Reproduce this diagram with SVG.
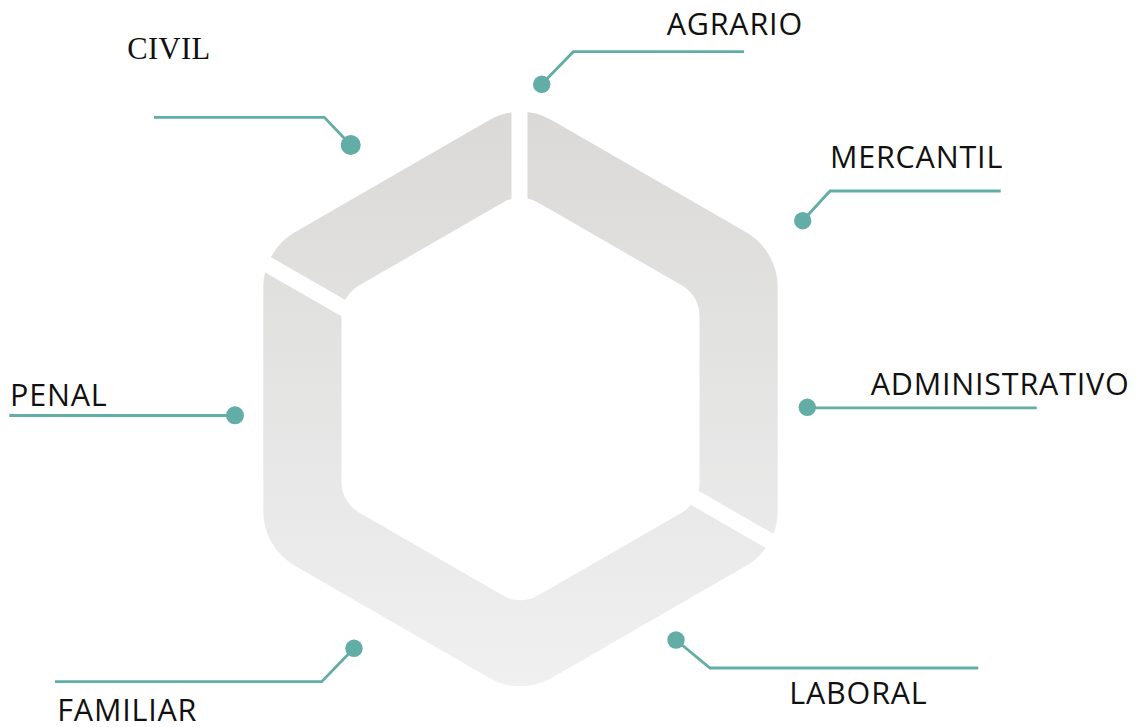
<svg xmlns="http://www.w3.org/2000/svg" width="1141" height="727" viewBox="0 0 1141 727">
  <style>
    .lbl { font-family: "Open Sans", "Liberation Sans", sans-serif; font-size: 30.5px; letter-spacing: 0.8px; fill: #111111; }
    .serif { font-family: "Liberation Serif", "Times New Roman", serif; font-size: 30.5px; letter-spacing: 0.4px; fill: #111111; }
    .conn { fill: none; stroke: #62ada5; stroke-width: 2.8; stroke-linejoin: miter; }
    .dot { fill: #62ada5; }
    .gap { stroke: #ffffff; stroke-width: 16; fill: none; }
  </style>
  <defs>
    <linearGradient id="ringGrad" x1="0" y1="110" x2="0" y2="686" gradientUnits="userSpaceOnUse">
      <stop offset="0" stop-color="#dad9d8"/>
      <stop offset="1" stop-color="#f0f0f0"/>
    </linearGradient>
  </defs>
  <rect width="1141" height="727" fill="#ffffff"/>

  <g id="hexagon">
    <path fill="url(#ringGrad)" fill-rule="evenodd" d="M489,120.2 A63,63 0 0 1 552,120.2 L746.2,232.3 A63,63 0 0 1 777.7,286.9 L777.7,511.1 A63,63 0 0 1 746.2,565.7 L552,677.8 A63,63 0 0 1 489,677.8 L294.8,565.7 A63,63 0 0 1 263.3,511.1 L263.3,286.9 A63,63 0 0 1 294.8,232.3 Z M503,202.4 A35,35 0 0 1 538,202.4 L682,285.55 A35,35 0 0 1 699.5,315.85 L699.5,482.15 A35,35 0 0 1 682,512.45 L538,595.6 A35,35 0 0 1 503,595.6 L359,512.45 A35,35 0 0 1 341.5,482.15 L341.5,315.85 A35,35 0 0 1 359,285.55 Z"/>
    <line class="gap" x1="519.5" y1="95" x2="519.5" y2="215" stroke-width="15"/>
    <line class="gap" x1="245" y1="251.5" x2="365" y2="320.5" stroke-width="18"/>
    <line class="gap" x1="675" y1="486.5" x2="795" y2="555.5" stroke-width="17"/>
  </g>

  <g id="connectors">
    <polyline class="conn" points="541.7,84.3 573.3,51.7 744,51.7"/>
    <polyline class="conn" points="802.7,220.7 830,191 1000.7,191"/>
    <polyline class="conn" points="807.3,407.8 1036.7,407.8"/>
    <polyline class="conn" points="676,640 710,668 978.3,668"/>
    <polyline class="conn" points="354,648.3 321.7,681.7 55,681.7"/>
    <polyline class="conn" points="235,415.5 9.3,415.5"/>
    <polyline class="conn" points="154,117.3 324.3,117.3 350.7,145"/>
  </g>

  <g id="node-agrario">
    <circle class="dot" cx="541.7" cy="84.3" r="8.7"/>
    <text class="lbl" x="666.7" y="35">AGRARIO</text>
  </g>
  <g id="node-mercantil">
    <circle class="dot" cx="802.7" cy="220.7" r="8.7"/>
    <text class="lbl" x="830" y="168.3">MERCANTIL</text>
  </g>
  <g id="node-administrativo">
    <circle class="dot" cx="807.3" cy="407.3" r="8.7"/>
    <text class="lbl" x="870.7" y="395">ADMINISTRATIVO</text>
  </g>
  <g id="node-laboral">
    <circle class="dot" cx="676" cy="640" r="8.7"/>
    <text class="lbl" x="789.3" y="704">LABORAL</text>
  </g>
  <g id="node-familiar">
    <circle class="dot" cx="354" cy="648.3" r="8.7"/>
    <text class="lbl" x="57.3" y="720.7">FAMILIAR</text>
  </g>
  <g id="node-penal">
    <circle class="dot" cx="235" cy="415.3" r="9"/>
    <text class="lbl" x="10" y="405.7">PENAL</text>
  </g>
  <g id="node-civil">
    <circle class="dot" cx="350.7" cy="145" r="10"/>
    <text class="serif" x="127.3" y="59.3">CIVIL</text>
  </g>
</svg>
